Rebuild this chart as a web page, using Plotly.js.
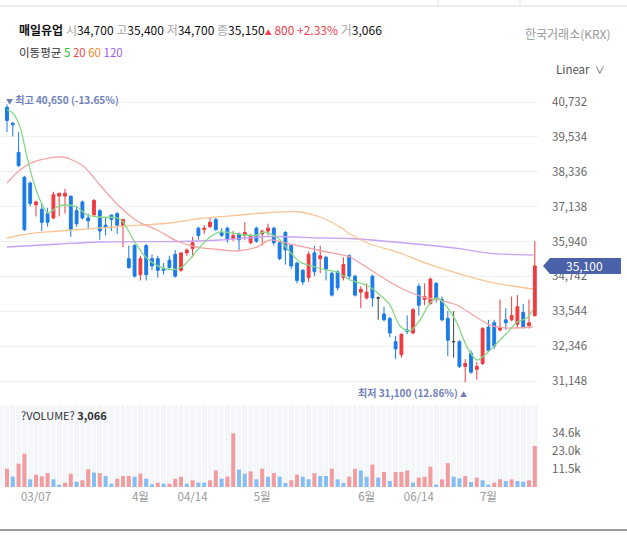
<!DOCTYPE html>
<html><head><meta charset="utf-8">
<script src="https://cdn.plot.ly/plotly-3.0.1.min.js"></script>
<style>html,body{margin:0;padding:0;background:#fff;}#chart{width:627px;height:538px;}</style>
</head><body><div id="chart"></div>
<script>
// ---- data ----
const openP  = [40550,40000,39000,38150,37950,37200,37050,36900,36750,37500,37500,37500,37000,37300,36750,36850,37000,36500,36850,36900,36500,
  35350,35800,34800,35800,35350,35350,35000,35300,35500,34950,35550,35700,36400,36350,36450,36700,36250,36400,36050,36200,36150,35900,36400,36200,36300,36400,35900,36250,35800,
  35200,34950,34700,35550,35350,35400,34850,34900,34700,35450,34750,34200,34000,34750,34000,33450,33300,32500,32050,32900,32800,34400,33950,33800,34500,33950,33300,32500,32500,31650,
  32100,31550,31750,33000,33150,32900,33250,33250,33100,33500,33050,33400];
const highP  = [40650,40050,39700,38200,38000,37350,37250,37100,37650,37600,37750,37500,37150,37350,36900,37400,37050,36750,36850,36950,36700,
  35800,35850,35450,35850,35500,35450,35200,35450,35650,35550,35700,36100,36450,36500,36750,36750,36400,36450,36300,36250,36600,36200,36450,36350,36550,36450,35950,36300,35850,
  35250,35000,35600,35800,35800,35450,34900,34950,35400,35500,34800,34400,34500,34800,34050,33700,33350,32700,32800,33400,33650,34500,34500,34700,34550,34050,33550,33550,32550,31900,
  32200,31800,33000,33250,33250,33950,33650,34050,34100,33800,33950,35950];
const lowP   = [39700,39550,38500,36300,37150,36800,36300,36450,36700,36800,36900,36100,36450,36700,36350,36850,36000,36150,36300,36200,35750,
  35000,34700,34600,34600,34950,34700,34800,34950,34700,34900,35450,35400,36000,36200,36400,36300,36100,35900,35950,35650,36000,35850,35900,35800,36150,35800,35300,35150,35000,
  34500,34450,34550,34750,34850,34600,34050,34250,34600,34650,34050,33650,33950,33700,33250,33200,32650,31900,31950,32750,32750,33400,33750,33800,33850,33200,32000,31950,31600,31100,
  31400,31200,31700,32150,32250,32850,32900,33200,33000,32950,32950,33350];
const closeP = [40100,39950,38550,36350,37250,37300,36600,36600,37550,37600,37600,36350,36550,36750,36650,37350,36300,36450,36700,36500,36700,
  35050,34750,35350,34800,35100,34950,34950,35050,34750,35550,35650,35900,36150,36400,36600,36350,36150,36000,36150,36000,36250,36150,35950,36300,36400,35900,35350,35650,35100,
  34600,34550,35500,34900,35450,35000,34100,34350,35150,34750,34100,34300,34200,34000,34000,33250,32800,32250,32750,32850,33600,33750,34050,34650,33950,33250,32550,32500,31650,31750,
  31450,31650,32950,32200,32350,33000,33150,33400,33700,33000,33150,35100];
// volume in thousands of shares
const volumeK = [11.7,6.6,14.9,21.3,4.9,7.9,6.8,8.9,4.9,1.5,
  2.8,8.5,3.4,4.3,11.3,9.2,8.9,7.0,2.1,5.3,
  7.0,7.0,6.6,8.5,5.3,1.7,2.8,2.1,2.1,5.3,
  6.6,2.1,4.3,2.8,2.8,4.3,10.6,5.3,6.6,34.3,
  11.1,8.5,10.0,4.9,11.7,6.6,8.9,6.6,2.6,4.3,
  7.9,6.6,4.9,8.9,7.0,7.0,11.7,4.9,2.6,6.6,
  11.7,10.6,6.6,14.3,6.0,9.6,3.8,9.6,9.6,10.6,
  2.8,6.0,6.6,13.0,1.5,4.9,15.3,6.6,5.5,7.0,
  3.2,6.0,4.3,1.5,2.8,4.9,3.8,4.9,3.8,3.4,
  4.3,26.2];
// 1 = red (up) volume bar, 0 = blue
const volUp = [1,0,1,1,0,1,1,1,0,0, 1,1,0,1,1,0,1,0,0,1, 1,1,0,1,0,0,1,0,1,1,
  1,0,1,0,0,1,1,0,1,1, 0,0,1,0,1,0,1,0,0,1, 1,0,0,1,0,0,1,0,0,1,
  1,0,0,1,0,1,0,1,1,1, 0,1,1,1,0,1,1,0,0,1, 0,1,0,0,1,1,0,1,0,0, 1,1];
// moving averages (position in candle index, value in won)
const ma5X   = [0,1.03,2.24,3.45,4.48,5.69,7.07,8.62,10,12.07,13.79,16.03,18.97,20,21.72,23.45,25.17,26.9,28.62,30.17,31.55,33.28,35,36.72,38.97,40.69,43.1,44.14,45.86,47.07,48.79,50.52,53.1,55.17,56.9,59.14,60.86,62.59,64.31,66.03,67.76,69.48,71.21,72.93,74.31,75.86,77.59,79.31,81.03,82.76,84.48,86.21,87.93,89.66,90.69];
const ma5    = [40458,40354,39874,38843,38053,37366,36919,37125,37194,37125,36851,36782,36748,36610,36026,35511,35202,35030,34979,35065,35339,35751,36095,36267,36232,36164,36164,36267,36164,35992,35580,35236,35065,34961,34893,34618,34515,34378,34103,33759,33038,32866,33244,33828,33999,33691,33141,32317,31870,32110,32454,32797,33175,33313,33622];
const ma20X  = [0,2.24,4.48,9.66,13.1,16.03,18.97,22.41,25.86,29.31,32.76,36.72,39.66,43.1,45.34,48.79,53.97,59.14,60.86,66.03,68.97,71.72,74.66,77.59,80.34,83.28,86.21,90.69];
const ma20   = [37950,38396,38671,38843,38534,37881,37229,36645,36335,35958,35751,35666,35614,35751,35992,35855,35632,35408,35202,34550,34240,34034,33931,33759,33416,33072,32969,33004];
const ma60X  = [0,3.97,9.14,19.48,28.1,33.28,40.17,45.34,50.52,53.97,57.41,59.14,62.59,67.76,71.72,77.59,83.28,90.69];
const ma60   = [36061,36216,36301,36456,36576,36731,36851,36937,36954,36782,36439,36198,35855,35545,35236,34858,34549,34309];
const ma120X = [0,9.14,16.03,29.83,36.72,45.34,53.97,59.14,67.76,77.59,83.28,90.69];
const ma120  = [35752,35855,35923,35941,35992,36112,36061,36044,35906,35707,35535,35477];
const priceTicks = [31148,32346,33544,34742,35940,37138,38336,39534,40732];
const volTicks = [11500,23000,34600];
const volTickText = ['11.5k','23.0k','34.6k'];
const dateTickIdx = [5,23,32,44,62,71,83];
const dateTickText = ['03/07','4월','04/14','5월','6월','06/14','7월'];
const lastPrice = 35100;

// ---- build ----
const UP='#ee3b41', DOWN='#1b7be6', FLAT='#444444';
const idx = openP.map((_, i) => i);
const pick = (arr, keep) => arr.filter((_, i) => keep(i));
const moving = i => openP[i] !== closeP[i];
const still = i => openP[i] === closeP[i];

const candleMain = {
  type:'candlestick', x:pick(idx,moving), open:pick(openP,moving), high:pick(highP,moving), low:pick(lowP,moving), close:pick(closeP,moving),
  increasing:{line:{color:UP,width:1}, fillcolor:UP}, decreasing:{line:{color:DOWN,width:1}, fillcolor:DOWN},
  whiskerwidth:0, hoverinfo:'skip', xaxis:'x', yaxis:'y'
};
const candleFlat = {
  type:'candlestick', x:pick(idx,still), open:pick(openP,still), high:pick(highP,still), low:pick(lowP,still), close:pick(closeP,still),
  increasing:{line:{color:FLAT,width:1}, fillcolor:FLAT}, decreasing:{line:{color:FLAT,width:1}, fillcolor:FLAT},
  whiskerwidth:0, hoverinfo:'skip', xaxis:'x', yaxis:'y'
};
const maLine = (xs, ys, color) => ({type:'scatter', mode:'lines', x:xs, y:ys, line:{color:color, width:1.3, shape:'spline', smoothing:0.8}, hoverinfo:'skip', xaxis:'x', yaxis:'y'});
const volTrace = {
  type:'bar', x:idx, y:volumeK.map(v => v*1000),
  marker:{color:volUp.map(u => u ? '#f39ca0' : '#86bdf3'), line:{width:0}},
  hoverinfo:'skip', xaxis:'x2', yaxis:'y2'
};

const plotW = 538, plotTop = 95, plotBot = 487, plotH = plotBot - plotTop;
const px = v => v / plotW;
const py = v => (plotBot - v) / plotH;
const wonPerPx = 34.35;

const FONT = "'Noto Sans CJK KR', 'Noto Sans', sans-serif";
const gray = "<span style='color:#a8a8a8'>";

const layout = {
  width:627, height:538,
  margin:{l:0, r:89, t:plotTop, b:538-plotBot, pad:0},
  paper_bgcolor:'#ffffff', plot_bgcolor:'rgba(0,0,0,0)',
  showlegend:false, bargap:0.3,
  font:{family:FONT, size:11, color:'#333'},
  xaxis:{domain:[0,1], anchor:'y', range:[-1.207, 91.55], showticklabels:false, showgrid:false, zeroline:false, showline:false, ticks:'', rangeslider:{visible:false}, fixedrange:true},
  yaxis:{domain:[py(398),1], anchor:'x', side:'right', range:[30565, 40973], tickmode:'array', tickvals:priceTicks, tickformat:',.0f',
    gridcolor:'#f0f0f0', gridwidth:1, zeroline:false, showline:false, ticks:'', ticklabelstandoff:13, tickfont:{size:11.5, color:'#666', family:FONT}, fixedrange:true},
  xaxis2:{domain:[0,1], anchor:'y2', matches:'x', tickmode:'array', tickvals:dateTickIdx, ticktext:dateTickText, showgrid:false, zeroline:false, showline:false, ticks:'',
    ticklabelstandoff:1, tickfont:{size:11.5, color:'#999', family:FONT},
    minor:{tickmode:'linear', tick0:0.5, dtick:1, showgrid:true, gridcolor:'#ffffff', gridwidth:1, ticks:''}, fixedrange:true},
  yaxis2:{domain:[0, py(405)], anchor:'x2', side:'right', range:[0, 52400], tickmode:'array', tickvals:volTicks, ticktext:volTickText,
    showgrid:false, zeroline:false, showline:false, ticks:'', ticklabelstandoff:13, tickfont:{size:11.5, color:'#666', family:FONT}, fixedrange:true},
  shapes:[
    {type:'rect', xref:'paper', yref:'paper', x0:0, x1:1, y0:0, y1:py(405), fillcolor:'#f4f6fa', line:{width:0}, layer:'below'},
    {type:'line', xref:'paper', yref:'paper', x0:0, x1:px(627), y0:py(6), y1:py(6), line:{color:'#dcdcdc', width:1}},
    {type:'line', xref:'paper', yref:'paper', x0:px(438), x1:px(438), y0:py(0), y1:py(6), line:{color:'#e4e4e4', width:1}},
    {type:'line', xref:'paper', yref:'paper', x0:px(520), x1:px(520), y0:py(0), y1:py(6), line:{color:'#e4e4e4', width:1}},
    {type:'line', xref:'paper', yref:'paper', x0:0, x1:px(627), y0:py(530), y1:py(530), line:{color:'#7a7a7a', width:1.5}},
    {type:'path', xref:'paper', yref:'y',
      path:`M${px(543)},${lastPrice} L${px(550)},${lastPrice+8*wonPerPx} L${px(621)},${lastPrice+8*wonPerPx} L${px(621)},${lastPrice-8*wonPerPx} L${px(550)},${lastPrice-8*wonPerPx} Z`,
      fillcolor:'#4a62aa', line:{width:0}}
  ],
  annotations:[
    {xref:'paper', yref:'paper', x:px(17), y:py(30), xanchor:'left', yanchor:'middle', showarrow:false, font:{size:12, color:'#111', family:FONT},
      text:`<b>매일유업</b> ${gray}시</span>34,700 ${gray}고</span>35,400 ${gray}저</span>34,700 ${gray}종</span>35,150<span style='color:#f0414a'><span style='font-size:7px'>▲</span> 800 +2.33%</span> ${gray}거</span>3,066`},
    {xref:'paper', yref:'paper', x:px(17), y:py(52), xanchor:'left', yanchor:'middle', showarrow:false, font:{size:11.5, color:'#333', family:FONT},
      text:"이동평균 <span style='color:#1fc21f'>5</span> <span style='color:#f04a4a'>20</span> <span style='color:#f28a2c'>60</span> <span style='color:#9b5cf0'>120</span>"},
    {xref:'paper', yref:'paper', x:px(613), y:py(33), xanchor:'right', yanchor:'middle', showarrow:false, font:{size:12, color:'#999', family:FONT}, text:'한국거래소(KRX)'},
    {xref:'paper', yref:'paper', x:px(607), y:py(69), xanchor:'right', yanchor:'middle', showarrow:false, font:{size:11.5, color:'#555', family:FONT}, text:"Linear  <span style='font-size:10px'>∨</span>"},
    {xref:'paper', yref:'paper', x:px(4), y:py(99), xanchor:'left', yanchor:'middle', showarrow:false, font:{size:10, color:'#6f80ba', family:FONT},
      text:"<span style='font-size:7px'>▼</span> <b>최고 40,650 (-13.65%)</b>"},
    {xref:'paper', yref:'paper', x:px(469), y:py(392), xanchor:'right', yanchor:'middle', showarrow:false, font:{size:10, color:'#6f80ba', family:FONT},
      text:"<b>최저 31,100 (12.86%)</b> <span style='font-size:7px'>▲</span>"},
    {xref:'paper', yref:'paper', x:px(19), y:py(415), xanchor:'left', yanchor:'middle', showarrow:false, font:{size:11, color:'#333', family:FONT},
      text:'?VOLUME? <b>3,066</b>'},
    {xref:'paper', yref:'y', x:px(585), y:lastPrice, xanchor:'center', yanchor:'middle', showarrow:false, font:{size:12, color:'#ffffff', family:FONT},
      text:lastPrice.toLocaleString('en-US')}
  ]
};

const data = [
  maLine(ma120X, ma120, '#c7a2f6'),
  maLine(ma60X, ma60, '#f9c595'),
  maLine(ma20X, ma20, '#f5a3a3'),
  maLine(ma5X, ma5, '#86d986'),
  candleMain, candleFlat, volTrace
];
Plotly.newPlot('chart', data, layout, {displayModeBar:false, staticPlot:true});
</script></body></html>
